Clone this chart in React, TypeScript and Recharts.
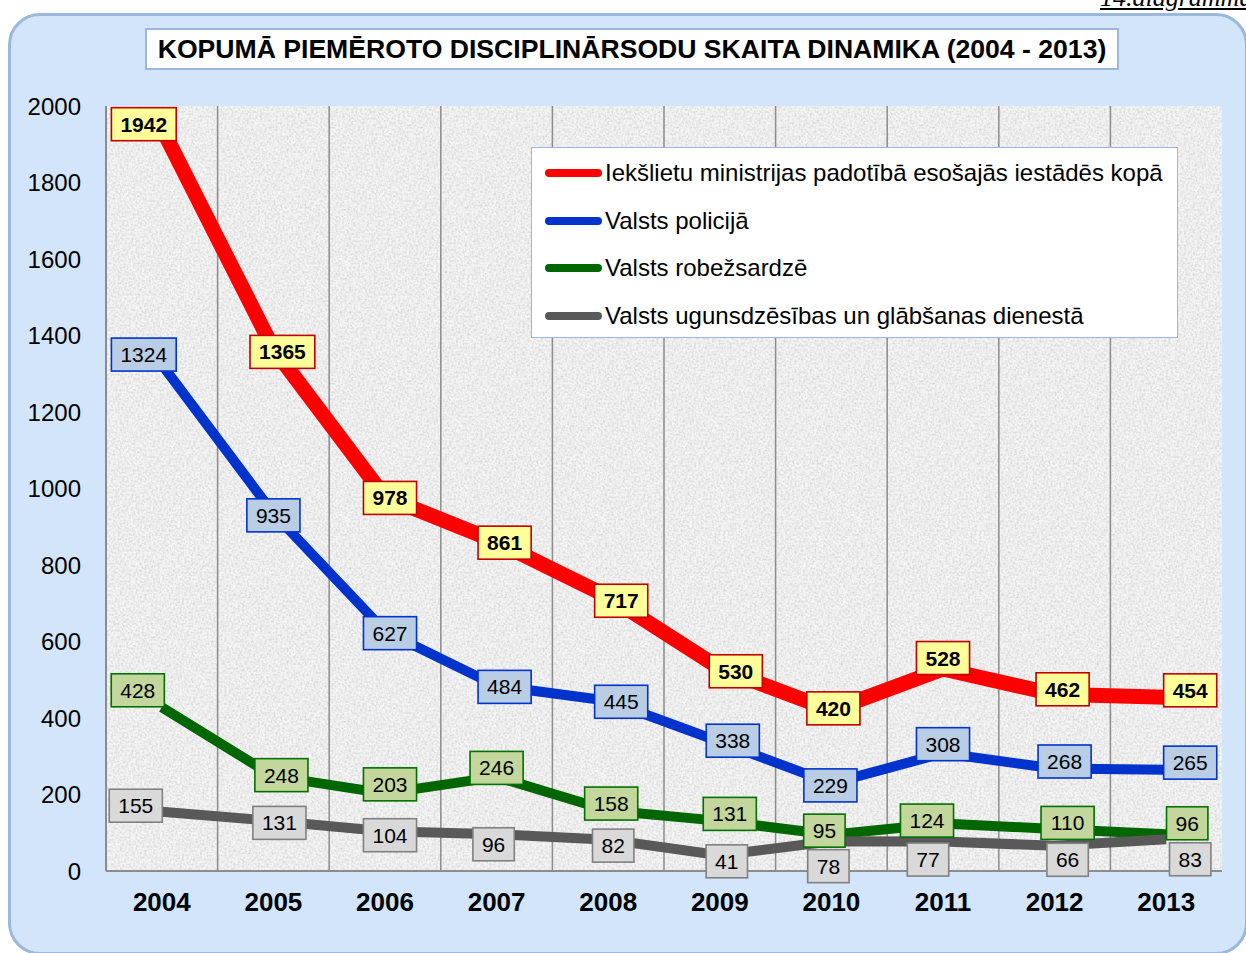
import React from 'react';
import { LineChart, Line, XAxis, YAxis, CartesianGrid, LabelList } from 'recharts';

const years = ['2004', '2005', '2006', '2007', '2008', '2009', '2010', '2011', '2012', '2013'];
const totalIem = [1942, 1365, 978, 861, 717, 530, 420, 528, 462, 454];
const policija = [1324, 935, 627, 484, 445, 338, 229, 308, 268, 265];
const robezsardze = [428, 248, 203, 246, 158, 131, 95, 124, 110, 96];
const ugunsdzesiba = [155, 131, 104, 96, 82, 41, 78, 77, 66, 83];
const yTicks = [0, 200, 400, 600, 800, 1000, 1200, 1400, 1600, 1800, 2000];

const titleText = 'KOPUMĀ PIEMĒROTO DISCIPLINĀRSODU SKAITA DINAMIKA (2004 - 2013)';
const cornerText = '14.diagramma';

const seriesNames = [
  'Iekšlietu ministrijas padotībā esošajās iestādēs kopā',
  'Valsts policijā',
  'Valsts robežsardzē',
  'Valsts ugunsdzēsības un glābšanas dienestā',
];

const data = years.map((y, i) => ({
  year: y,
  total: totalIem[i],
  police: policija[i],
  border: robezsardze[i],
  fire: ugunsdzesiba[i],
}));

// styling / layout (kept apart from the data)
const FONT = '"Liberation Sans", Arial, sans-serif';
const CHART_W = 1246;
const CHART_H = 953;
const MARGIN = { top: 106, right: 24, bottom: 0, left: 0 };
const Y_AXIS_W = 106;
const PLOT_W = CHART_W - MARGIN.left - MARGIN.right - Y_AXIS_W;
const HALF_BAND = PLOT_W / years.length / 2;

const series = [
  { key: 'total', name: seriesNames[0], color: '#ff0000', width: 15, boxFill: '#ffff99', boxStroke: '#c00000', bold: true },
  { key: 'police', name: seriesNames[1], color: '#0033cc', width: 10, boxFill: '#b9cde5', boxStroke: '#0033cc', bold: false },
  { key: 'border', name: seriesNames[2], color: '#006600', width: 10, boxFill: '#c3d69b', boxStroke: '#007000', bold: false },
  { key: 'fire', name: seriesNames[3], color: '#595959', width: 10, boxFill: '#d9d9d9', boxStroke: '#808080', bold: false },
];

// label nudges (px) relative to the data point, per series
const labelNudge: Record<string, number[][]> = {
  total: [[-18, -4], [9, 3], [5, 1], [8, 1], [13, 4], [16, 3], [2, -2], [0, -11], [8, -5], [24, -7]],
  police: [[-18, -10], [0, 2], [5, 2], [8, 1], [13, 1], [13, -1], [-1, 2], [0, -9], [10, -7], [24, -7]],
  border: [[-24, -17], [8, -1], [5, -9], [0, -9], [3, -7], [10, -7], [-7, -4], [-16, -3], [13, -6], [21, -11]],
  fire: [[-26, -6], [6, 2], [5, 4], [-3, 10], [5, 6], [7, 6], [-3, 25], [-15, 18], [13, 14], [24, 20]],
};

const makeLabel = (s: typeof series[number]) => (props: any) => {
  const { x, y, value, index } = props;
  if (x == null || y == null) return null;
  const nudge = labelNudge[s.key][index ?? 0] || [0, 0];
  const cx = x + nudge[0];
  const cy = y + nudge[1];
  const txt = String(value);
  const w = txt.length * 11.7 + 18;
  const h = 33;
  return (
    <g>
      <rect x={cx - w / 2} y={cy - h / 2} width={w} height={h} fill={s.boxFill} stroke={s.boxStroke} strokeWidth={1.6} />
      <text x={cx} y={cy + 7.5} textAnchor="middle" fontFamily={FONT} fontSize={21} fontWeight={s.bold ? 700 : 400} fill="#000">
        {txt}
      </text>
    </g>
  );
};

export default function App() {
  return (
    <div style={{ position: 'absolute', left: 0, top: 0, width: CHART_W, height: CHART_H, overflow: 'hidden', background: '#fff', fontFamily: FONT }}>
      <svg width={0} height={0} style={{ position: 'absolute' }}>
        <defs>
          <filter id="grain" x="0" y="0" width="100%" height="100%">
            <feTurbulence type="fractalNoise" baseFrequency="0.45" numOctaves={2} seed={3} stitchTiles="stitch" />
            <feColorMatrix type="matrix" values="0 0 0 0 0.62  0 0 0 0 0.62  0 0 0 0 0.62  1.5 0 0 0 -0.55" />
          </filter>
          <pattern id="paper" patternUnits="userSpaceOnUse" width={256} height={256}>
            <rect width={256} height={256} fill="#f4f4f4" />
            <rect width={256} height={256} filter="url(#grain)" />
          </pattern>
        </defs>
      </svg>

      <div style={{ position: 'absolute', left: 1100, top: -17, fontFamily: '"Liberation Serif", serif', fontStyle: 'italic', fontSize: 26, lineHeight: '30px', textDecoration: 'underline', whiteSpace: 'nowrap', color: '#000' }}>
        {cornerText}
      </div>

      <div style={{ position: 'absolute', left: 8, top: 13, width: 1234, height: 936, background: '#d3e5fb', border: '3px solid #9bb8dc', borderRadius: 32 }} />

      <div style={{ position: 'absolute', left: 145, top: 28, width: 970, height: 38, background: '#fff', border: '2px solid #9bb8dc', display: 'flex', alignItems: 'center', justifyContent: 'center' }}>
        <span style={{ fontWeight: 700, fontSize: 26.6, color: '#000', whiteSpace: 'nowrap' }}>{titleText}</span>
      </div>

      <div style={{ position: 'absolute', left: 0, top: 0 }}>
        <LineChart width={CHART_W} height={CHART_H} data={data} margin={MARGIN}>
          <CartesianGrid
            horizontal={false}
            vertical
            fill="url(#paper)"
            fillOpacity={1}
            stroke="#8c8c8c"
            strokeWidth={1.5}
            verticalCoordinatesGenerator={({ offset }: any) =>
              years.slice(1).map((_, i) => offset.left + ((i + 1) * offset.width) / years.length)
            }
          />
          <XAxis
            dataKey="year"
            height={82}
            padding={{ left: HALF_BAND, right: HALF_BAND }}
            tickLine={false}
            tickMargin={16}
            axisLine={{ stroke: '#8c8c8c', strokeWidth: 2 }}
            tick={{ fontFamily: FONT, fontSize: 26, fontWeight: 700, fill: '#000' }}
            interval={0}
          />
          <XAxis xAxisId="top" dataKey="year" orientation="top" height={0} tick={false} tickLine={false} axisLine={{ stroke: '#a9c0dd', strokeWidth: 1.5 }} />
          <YAxis
            width={Y_AXIS_W}
            domain={[0, 2000]}
            ticks={yTicks}
            tickLine={false}
            tickMargin={19}
            axisLine={{ stroke: '#8c8c8c', strokeWidth: 2 }}
            tick={{ fontFamily: FONT, fontSize: 24, fill: '#000' }}
            interval={0}
          />
          <YAxis yAxisId="right" orientation="right" width={0} domain={[0, 2000]} tick={false} tickLine={false} axisLine={{ stroke: '#a9c0dd', strokeWidth: 1.5 }} />
          {series.map((s) => (
            <Line
              key={s.key}
              type="linear"
              dataKey={s.key}
              name={s.name}
              stroke={s.color}
              strokeWidth={s.width}
              strokeLinejoin="round"
              dot={false}
              activeDot={false}
              isAnimationActive={false}
            />
          ))}
          {series.map((s) => (
            <Line
              key={s.key + '-labels'}
              type="linear"
              dataKey={s.key}
              stroke="none"
              strokeWidth={0}
              dot={false}
              activeDot={false}
              legendType="none"
              isAnimationActive={false}
            >
              <LabelList dataKey={s.key} content={makeLabel(s)} />
            </Line>
          ))}
        </LineChart>
      </div>

      <div style={{ position: 'absolute', left: 531, top: 147, width: 645, height: 189, background: '#fff', border: '1.5px solid #9bb8dc' }}>
        {series.map((s, i) => (
          <div key={s.key} style={{ position: 'absolute', left: 0, top: 25 + i * 47.7, height: 0 }}>
            <div style={{ position: 'absolute', left: 13, top: -4, width: 57, height: 8, borderRadius: 4, background: s.color }} />
            <div style={{ position: 'absolute', left: 73, top: -14, fontSize: 24, lineHeight: '28px', whiteSpace: 'nowrap', color: '#000' }}>{s.name}</div>
          </div>
        ))}
      </div>
    </div>
  );
}
